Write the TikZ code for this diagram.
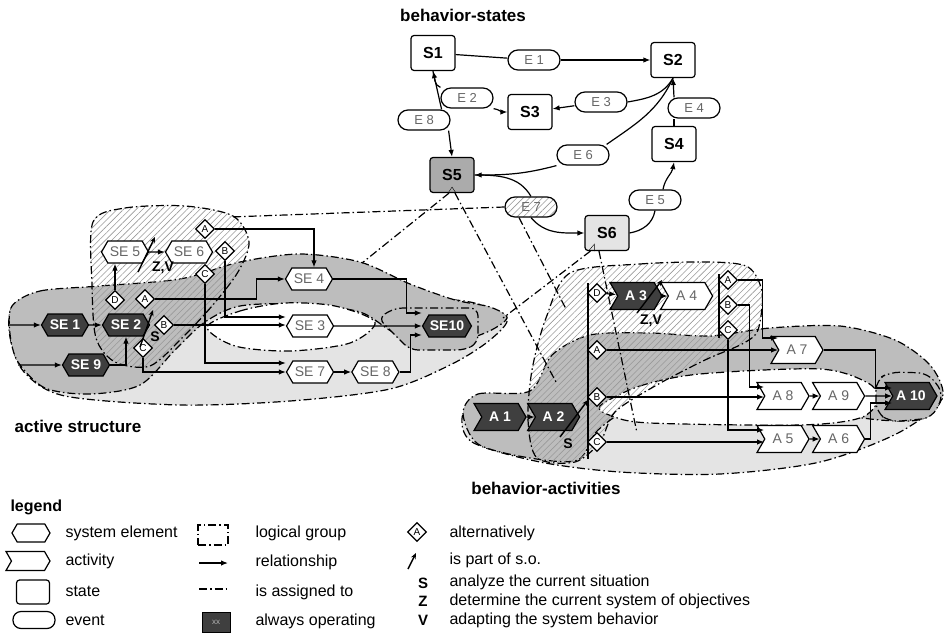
\documentclass[tikz,border=0pt]{standalone}
\usepackage{fontspec}
\setmainfont{Liberation Sans}
\usepackage{tikz}
\usetikzlibrary{shapes.symbols,shapes.geometric,arrows.meta,positioning,patterns.meta}
\definecolor{opfill}{HTML}{3F3F3F}
\definecolor{grpmid}{HTML}{BDBDBD}
\definecolor{grplight}{HTML}{E4E4E4}
\definecolor{stategray}{HTML}{ABABAB}
\definecolor{txtgray}{HTML}{666666}
\newcommand{\nodefont}{\fontsize{14}{14}\selectfont}
\newcommand{\legfont}{\fontsize{16}{16}\selectfont}

\begin{document}
\begin{tikzpicture}[
  x=1pt,y=-1pt,
  link/.style={line width=1.2pt},
  syselem/.style={shape=signal,signal to=east and west,signal pointer angle=120,draw,link,fill=white,minimum width=47pt,minimum height=22pt,inner sep=1pt,font=\nodefont,text=txtgray},
  activity/.style={shape=signal,signal to=east,signal from=west,signal pointer angle=120,draw,link,fill=white,minimum width=52pt,minimum height=27pt,inner sep=1pt,font=\nodefont,text=txtgray},
  operating/.style={fill=opfill,text=white,font=\nodefont\bfseries},
  state/.style={rectangle,rounded corners=3pt,draw,link,fill=white,minimum width=44pt,minimum height=35pt,font=\fontsize{16}{16}\selectfont\bfseries},
  event/.style={rectangle,rounded corners=10pt,draw,link,fill=white,minimum width=52pt,minimum height=20pt,inner sep=1pt,font=\fontsize{13}{13}\selectfont,text=txtgray},
  alt/.style={diamond,draw,link,fill=white,inner sep=0.5pt,minimum size=19pt,font=\fontsize{10}{10}\selectfont},
  rel/.style={link,-{Latex[length=7pt,width=5.5pt]}},
  assign/.style={line width=1.2pt,dash pattern=on 8pt off 3pt on 1.5pt off 3pt},
  group/.style={draw,line width=1.2pt,dash pattern=on 8pt off 3pt on 1.5pt off 3pt},
  hatch/.style={pattern={Lines[angle=45,distance=4.5pt,line width=.6pt]},pattern color=black!40},
  partof/.style={line width=1.4pt,-{Stealth[length=6pt,width=5pt]}},
  heading/.style={font=\fontsize{17}{17}\selectfont\bfseries},
  legtext/.style={anchor=west,font=\legfont},
  letter/.style={font=\fontsize{15}{15}\selectfont\bfseries}
]
\useasboundingbox (0,0) rectangle (944,632);
\draw[group,fill=grplight] plot[smooth cycle] coordinates {(12,307) (10,337) (24,372) (65,396) (180,405) (290,401) (390,389) (452,364) (490,340) (507,318) (470,302) (400,297) (300,300) (200,298) (100,289) (40,293)};
\draw[group,fill=grpmid] plot[smooth cycle] coordinates {(12,306) (40,291) (100,286) (180,279) (240,262) (300,254) (360,262) (410,284) (455,300) (490,307) (507,318) (485,333) (440,345) (395,333) (360,312) (300,304) (240,306) (205,322) (175,350) (140,385) (90,394) (45,388) (18,362) (10,334)};
\draw[group,fill=white] plot[smooth cycle] coordinates {(207,327) (240,311) (285,303) (335,306) (375,322) (350,343) (290,351) (235,346)};
\draw[group,fill=grpmid,rounded corners=8pt] (378,318) -- (395,308) -- (478,308) -- (478,343) -- (465,350) -- (410,350) -- cycle;
\draw[group,hatch] plot[smooth cycle] coordinates {(93,222) (125,208) (185,206) (233,216) (249,242) (238,272) (212,306) (182,338) (150,366) (115,362) (96,338) (92,285)};
\draw[group,fill=grplight] plot[smooth cycle] coordinates {(463,414) (472,442) (540,462) (620,472) (720,474) (820,462) (900,432) (943,396) (900,372) (820,368) (700,376) (620,392) (560,396) (490,398)};
\draw[group,fill=grpmid] plot[smooth cycle] coordinates {(463,413) (478,394) (530,391) (552,355) (590,335) (650,333) (710,336) (770,328) (840,326) (895,340) (930,365) (943,394) (925,418) (880,420) (760,405) (640,408) (598,430) (578,460) (530,458) (478,444)};
\draw[group,fill=white] plot[smooth cycle] coordinates {(600,406) (640,386) (700,374) (820,369) (868,383) (878,400) (860,418) (800,425) (650,423) (612,416)};
\draw[group,fill=grpmid,rounded corners=10pt] (876,380) -- (890,372) -- (928,373) -- (944,394) -- (932,418) -- (890,422) -- (876,412) -- cycle;
\draw[group,hatch] plot[smooth cycle] coordinates {(570,273) (640,264) (710,262) (748,267) (762,292) (758,330) (742,344) (705,360) (655,386) (615,412) (600,442) (575,462) (537,458) (528,420) (532,370) (546,318)};

\node[heading] (hStates) at (463,15) {behavior-states};
\node[heading] (hStruct) at (78,426) {active structure};
\node[heading] (hActs) at (546,488) {behavior-activities};

\node[state] (S1) at (433,53) {S1};
\node[state] (S2) at (673,60) {S2};
\node[state] (S3) at (530,112) {S3};
\node[state] (S4) at (674,144) {S4};
\node[state,fill=stategray] (S5) at (452,175) {S5};
\node[state,fill=grplight] (S6) at (607,233) {S6};
\node[event] (E1) at (534,60) {E 1};
\node[event] (E2) at (467,98) {E 2};
\node[event] (E3) at (601,102) {E 3};
\node[event] (E4) at (694,108) {E 4};
\node[event] (E8) at (424,120) {E 8};
\node[event] (E6) at (583,155) {E 6};
\node[event] (E5) at (655,200) {E 5};
\node[event,hatch,preaction={fill=white}] (E7) at (531,207) {E 7};
\draw ([xshift=-4pt]S5.south) -- ++(4,-6) -- ++(4,6);
\draw ([xshift=4pt]S6.south west) -- ++(6,-7) -- ++(0,7);

\node[syselem,operating] (SE1) at (65,325) {SE 1};
\node[syselem,operating] (SE2) at (126,325) {SE 2};
\node[syselem,operating] (SE9) at (86,365) {SE 9};
\node[syselem] (SE5) at (125,252) {SE 5};
\node[syselem] (SE6) at (189,252) {SE 6};
\node[syselem] (SE4) at (309,279) {SE 4};
\node[syselem] (SE3) at (310,326) {SE 3};
\node[syselem] (SE7) at (310,372) {SE 7};
\node[syselem,right=17pt of SE7] (SE8) {SE 8};
\node[syselem,operating] (SE10) at (447,326) {SE10};
\node[alt] (altA6) at (205,229) {A};
\node[alt] (altB6) at (225,251) {B};
\node[alt] (altC6) at (205,274) {C};
\node[alt] (altD2) at (115,300) {D};
\node[alt] (altA2) at (145,299) {A};
\node[alt] (altB2) at (164,325) {B};
\node[alt] (altC2) at (143,348) {C};
\coordinate (inSE1) at (8,325);
\coordinate (inSE9) at (18,365);

\node[activity,operating] (A1) at (500,417) {A 1};
\node[activity,operating,right=8pt of A1] (A2) {A 2};
\node[activity,operating] (A3) at (636,296) {A 3};
\node[activity,right=5pt of A3] (A4) {A 4};
\node[activity] (A7) at (797,350) {A 7};
\node[activity] (A8) at (783,396) {A 8};
\node[activity,right=10pt of A8] (A9) {A 9};
\node[activity,operating] (A10) at (911,396) {A 10};
\node[activity] (A5) at (783,439) {A 5};
\node[activity,right=10pt of A5] (A6) {A 6};
\coordinate (barLtop) at (588,283);
\coordinate (barLbot) at (588,459);
\coordinate (barRtop) at (719,274);
\coordinate (barRbot) at (719,338);
\draw[link] (barLtop) -- (barLbot);
\draw[link] (barRtop) -- (barRbot);
\node[alt] (altDr) at (597,293) {D};
\node[alt] (altAr) at (597,350) {A};
\node[alt] (altBr) at (597,397) {B};
\node[alt] (altCr) at (597,442) {C};
\node[alt] (altA4) at (728,280) {A};
\node[alt] (altB4) at (728,305) {B};
\node[alt] (altC4) at (728,330) {C};

\coordinate (asgSE4) at (362,263);
\coordinate (asgA2) at (556,382);
\coordinate (asgSE56) at (230,217);
\coordinate (asgA34) at (566,309);
\coordinate (asgSE10) at (503,318);
\coordinate (asgA56) at (637,433);
\draw[assign] ([xshift=-3pt]S5.south) -- (asgSE4);
\draw[assign] ([xshift=3pt]S5.south) -- (asgA2);
\draw[assign] (E7.west) -- (asgSE56);
\draw[assign] ([xshift=-12pt]E7.south) -- (asgA34);
\draw[assign] ([xshift=6pt]S6.south west) -- (asgSE10);
\draw[assign] ([xshift=-8pt]S6.south) -- (asgA56);

\draw[link] (S1) -- (E1);
\draw[rel] (E1) -- (S2);
\draw[link] (S1.south) to[out=-75,in=160] (E2.north west);
\draw[rel] (E2.south east) to[out=-10,in=180] (S3.west);
\draw[link,{Latex[length=7pt,width=5.5pt]}-] (S1.south) -- ([xshift=-9pt]E8.north east);
\draw[rel] ([xshift=-2pt]E8.south east) -- (S5.north);
\draw[link] (S2.south) to[out=-120,in=10] (E3.east);
\draw[rel] (E3) -- (S3);
\draw[link] (S2.south) to[out=-115,in=35] ([xshift=-3pt]E6.north east);
\draw[rel] (E6.south west) to[out=195,in=0] (S5.east);
\draw[link] (S4.north) -- (S4.north |- E4.south);
\draw[rel] (S4.north |- E4.north) -- (S2.south);
\draw[link] (S6.east) to[out=10,in=-100] (E5.south);
\draw[rel] ([xshift=8pt]E5.north) to[out=80,in=-100] (S4.south);
\draw[link] (S5.east) to[out=0,in=120] (E7.north);
\draw[rel] (E7.south) to[out=-50,in=180] (S6.west);

\draw[rel] (inSE1) -- (SE1);
\draw[rel] (inSE9) -- (SE9);
\draw[rel] (SE1) -- (SE2);
\draw[rel] (SE9.east) -| (SE2.south);
\draw[rel] (altD2.north) -- (altD2.north |- SE5.south);
\draw[rel] (SE5) -- (SE6);
\draw[rel] (altA6.east) -| ([xshift=5pt]SE4.north);
\draw[rel] (altB6.south) |- ([yshift=9pt]SE3.west);
\draw[rel] (altC6.south) |- ([yshift=9pt]SE7.west);
\draw[rel] (altA2.east) -- ++(101,0) |- (SE4.west);
\draw[rel] (altB2.east) -- (altB2.east -| SE3.west);
\draw[rel] (altC2.south) |- (SE7.west);
\draw[rel] (SE7) -- (SE8);
\draw[rel] (SE4.east) -- ++(73,0) |- ([yshift=13pt]SE10.west);
\draw[rel] (SE3) -- (SE10);
\draw[rel] (SE8.east) -- ++(11,0) |- ([yshift=-9pt]SE10.west);
\draw[partof] (138,272) -- (155,237);
\node[font=\nodefont\bfseries] (zvSE5) at (163,268) {Z,V};
\draw[partof] (140,347) -- (153,310);
\node[font=\nodefont\bfseries] (sSE2) at (155,337) {S};

\draw[rel] (A1) -- (A2);
\draw[rel] (altDr) -- (A3);
\draw[rel] (A3) -- (A4);
\draw[rel] (altAr.east) -- (altAr.east -| A7.west);
\draw[rel] (altBr.east) -- (altBr.east -| A8.west);
\draw[rel] (altCr.east) -- (altCr.east -| A5.west);
\draw[rel] (altA4.east) -- ++(24,0) |- ([yshift=12pt]A7.west);
\draw[rel] (altB4.east) -- ++(11,0) |- ([yshift=9pt]A8.west);
\draw[rel] (altC4.south) |- ([yshift=9pt]A5.west);
\draw[rel] (A8) -- (A9);
\draw[rel] (A5) -- (A6);
\draw[rel] (A7.east) -- ++(52,0) |- ([yshift=8pt]A10.west);
\draw[rel] (A9) -- (A10);
\draw[rel] (A6.east) -- ++(5,0) |- ([yshift=-7pt]A10.west);
\draw[partof] (560,437) -- (588,400);
\node[font=\nodefont\bfseries] (sA2) at (568,444) {S};
\draw[partof] (637,313) -- (662,280);
\node[font=\nodefont\bfseries] (zvA3) at (651,321) {Z,V};

\node[heading,anchor=west,font=\fontsize{16}{16}\selectfont\bfseries] (hLegend) at (7,507) {legend};
\node[syselem,minimum width=38pt,minimum height=18pt] (lgSE) at (31,533) {};
\node[activity,minimum width=44pt,minimum height=19pt] (lgAct) at (28,561) {};
\node[state,minimum width=33pt,minimum height=24pt] (lgState) at (33,592) {};
\node[event,minimum width=42pt,minimum height=17pt,rounded corners=8pt] (lgEvent) at (34,620) {};
\node[legtext] (tSE) at (62,533) {system element};
\node[legtext] (tAct) at (62,561) {activity};
\node[legtext] (tState) at (62,591) {state};
\node[legtext] (tEvent) at (62,620) {event};
\node[group,minimum width=30pt,minimum height=20pt] (lgGroup) at (213,535) {};
\coordinate (lgRelA) at (199,563);
\coordinate (lgRelB) at (228,563);
\draw[rel] (lgRelA) -- (lgRelB);
\coordinate (lgAsgA) at (199,589);
\coordinate (lgAsgB) at (228,589);
\draw[assign] (lgAsgA) -- (lgAsgB);
\node[draw,fill=opfill,minimum width=28pt,minimum height=20pt,font=\fontsize{8}{8}\selectfont,text=black!30] (lgOp) at (216,622) {xx};
\node[legtext] (tGroup) at (252,533) {logical group};
\node[legtext] (tRel) at (252,562) {relationship};
\node[legtext] (tAsg) at (252,592) {is assigned to};
\node[legtext] (tOp) at (252,621) {always operating};
\node[alt] (lgAlt) at (417,532) {A};
\draw[partof] (408,569) -- (416,553);
\node[letter] (lgS) at (423,583) {S};
\node[letter] (lgZ) at (423,601) {Z};
\node[letter] (lgV) at (423,620) {V};
\node[legtext] (tAlt) at (446,533) {alternatively};
\node[legtext] (tPart) at (446,560) {is part of s.o.};
\node[legtext] (tS) at (446,582) {analyze the current situation};
\node[legtext] (tZ) at (446,601) {determine the current system of objectives};
\node[legtext] (tV) at (446,620) {adapting the system behavior};
\end{tikzpicture}
\end{document}
